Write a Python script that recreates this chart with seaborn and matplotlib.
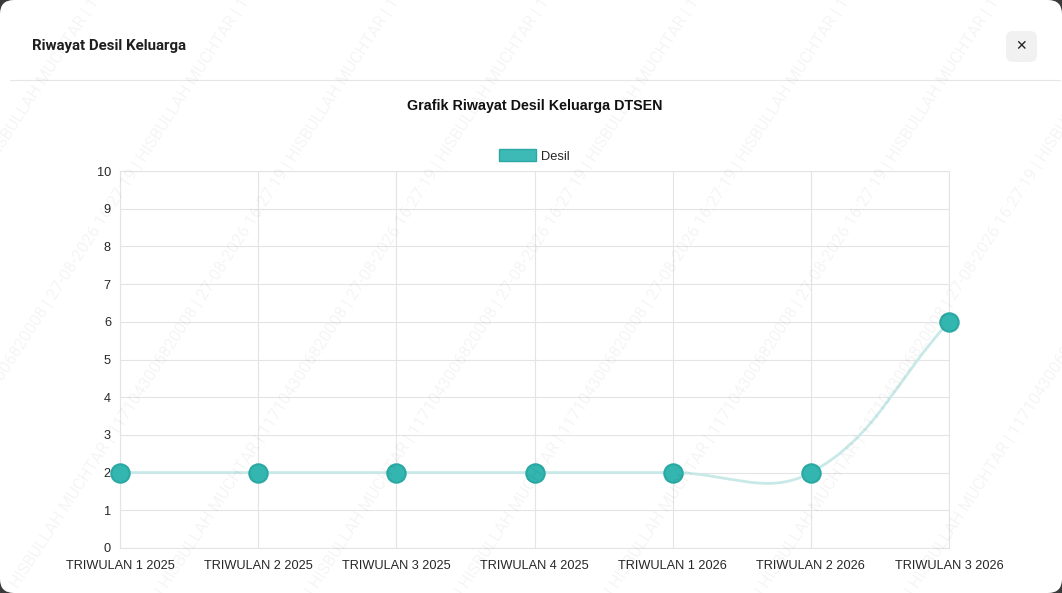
import numpy as np
import pandas as pd

import matplotlib
matplotlib.use("Agg")
import matplotlib.pyplot as plt
from matplotlib.path import Path
from matplotlib.patches import PathPatch, FancyBboxPatch, Patch
from matplotlib.transforms import IdentityTransform
import seaborn as sns

# ---- Data ----
PERIODE = ["TRIWULAN 1 2025", "TRIWULAN 2 2025", "TRIWULAN 3 2025", "TRIWULAN 4 2025",
           "TRIWULAN 1 2026", "TRIWULAN 2 2026", "TRIWULAN 3 2026"]
DESIL = [2, 2, 2, 2, 2, 2, 6]
Y_TICKS = list(range(0, 11))

JUDUL_MODAL = "Riwayat Desil Keluarga"
JUDUL_GRAFIK = "Grafik Riwayat Desil Keluarga DTSEN"
LABEL_SERI = "Desil"
WATERMARK = "27-08-2026 16:27:19 | HISBULLAH MUCHTAR | 1171043006820008 | "

W, H, DPI = 1062, 593, 100
TEAL = "#33b5b0"
TEAL_EDGE = "#2aa8a3"
LINE = "#c8e9e8"
GRID = "#e4e4e4"
TEXT = "#262626"

sns.set_theme(style="white")
plt.rcParams["font.family"] = ["Liberation Sans", "DejaVu Sans"]


def fx(x):
    return x / W


def fy(y):
    return 1 - y / H


def spline_path(ax, xs, ys, tension=0.4):
    """Kurva spline gaya Chart.js (tension 0.4), dihitung di ruang piksel."""
    pts = ax.transData.transform(np.column_stack([xs, ys]))
    n = len(pts)
    cps = []
    for i in range(n):
        prev, cur, nxt = pts[max(i - 1, 0)], pts[i], pts[min(i + 1, n - 1)]
        d01 = np.hypot(*(cur - prev))
        d12 = np.hypot(*(nxt - cur))
        tot = d01 + d12
        fa = tension * (d01 / tot if tot else 0)
        fb = tension * (d12 / tot if tot else 0)
        cps.append((cur - fa * (nxt - prev), cur + fb * (nxt - prev)))
    verts, codes = [pts[0]], [Path.MOVETO]
    for i in range(n - 1):
        verts += [cps[i][1], cps[i + 1][0], pts[i + 1]]
        codes += [Path.CURVE4] * 3
    verts = ax.transData.inverted().transform(np.array(verts))
    return Path(verts, codes)


fig = plt.figure(figsize=(W / DPI, H / DPI), dpi=DPI, facecolor="#3a3a3a")

# panel modal putih dengan sudut membulat
fig.patches.append(FancyBboxPatch((0, 0), W, H, boxstyle="round,pad=0,rounding_size=14",
                                  transform=IdentityTransform(), facecolor="white",
                                  edgecolor="none", zorder=-2))
fig.add_artist(plt.Line2D([fx(10), fx(1060)], [fy(80), fy(80)], color="#e6e6e6", lw=0.8,
                          transform=fig.transFigure, zorder=-1))
fig.text(fx(32), fy(46), JUDUL_MODAL, fontsize=10.8, fontweight="bold", color="#1f1f1f",
         family=["Roboto", "DejaVu Sans"], ha="left", va="center")
fig.patches.append(FancyBboxPatch((1006, H - 62), 31, 31, boxstyle="round,pad=0,rounding_size=7",
                                  transform=IdentityTransform(), facecolor="#f1f1f1",
                                  edgecolor="none", zorder=-1))
fig.text(fx(1021.5), fy(46), "\u2715", fontsize=10, color="#222222", ha="center", va="center",
         family=["DejaVu Sans"])
fig.text(fx(535), fy(106), JUDUL_GRAFIK, fontsize=10.3, fontweight="bold", color="#111111",
         ha="center", va="center")

ax = fig.add_axes([fx(120), fy(548), fx(949) - fx(120), fy(171) - fy(548)])
ax.set_zorder(2)
ax.set_facecolor("none")

df = pd.DataFrame({"periode": PERIODE, "desil": DESIL})
ax.set_xlim(0, len(PERIODE) - 1)
ax.set_ylim(0, 10)

ax.add_patch(PathPatch(spline_path(ax, np.arange(len(PERIODE)), DESIL), facecolor="none",
                       edgecolor=LINE, lw=2.0, zorder=2))
sns.scatterplot(data=df, x=np.arange(len(PERIODE)), y="desil", ax=ax, s=175, color=TEAL,
                edgecolor=TEAL_EDGE, linewidth=1.5, zorder=3, clip_on=False, legend=False)

ax.set_xlim(0, len(PERIODE) - 1)
ax.set_ylim(0, 10)
ax.set_xticks(np.arange(len(PERIODE)))
ax.set_xticklabels(PERIODE)
ax.set_yticks(Y_TICKS)
ax.set_xlabel("")
ax.set_ylabel("")
ax.grid(True, color=GRID, lw=0.8)
ax.set_axisbelow(True)
for sp in ax.spines.values():
    sp.set_color(GRID)
    sp.set_linewidth(0.8)
ax.tick_params(axis="both", length=5, width=0.8, color=GRID, labelsize=9.2,
               labelcolor=TEXT)
ax.tick_params(axis="x", pad=3.5)
ax.tick_params(axis="y", pad=1.5)

fig.legend(handles=[Patch(facecolor="#3dbab6", edgecolor=TEAL_EDGE, lw=1, label=LABEL_SERI)],
           loc="center", bbox_to_anchor=(fx(534), fy(156)), frameon=False, fontsize=9.3,
           handlelength=2.9, handleheight=1.05, handletextpad=0.35, labelcolor=TEXT)

# watermark diagonal
for k in range(-5, 10):
    fig.text(fx(-250 + k * 150), fy(300), (WATERMARK * 4).strip(), rotation=57,
             rotation_mode="anchor", ha="center", va="center", fontsize=12,
             color="#000000", alpha=0.045, family=["Roboto", "DejaVu Sans"], zorder=10)

fig.savefig("out.png", dpi=DPI, facecolor=fig.get_facecolor())
